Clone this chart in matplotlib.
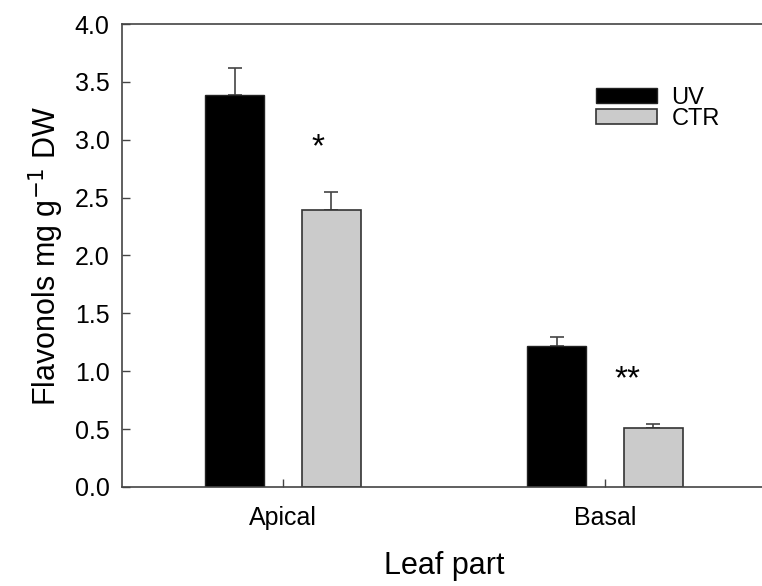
import numpy as np
import matplotlib.pyplot as plt

plt.rcParams['font.family'] = ['Liberation Sans', 'DejaVu Sans']

# data
parts = ['Apical', 'Basal']
uv_mean = [3.39, 1.22]
uv_err = [0.23, 0.08]
ctr_mean = [2.39, 0.51]
ctr_err = [0.16, 0.03]
stars = ['*', '**']
star_y = [2.93, 0.93]

fig = plt.figure(figsize=(7.62, 5.86), dpi=100)
ax = fig.add_axes([0.160, 0.169, 0.845, 0.790])

x = np.arange(len(parts))
w = 0.183
off = 0.15

ax.bar(x - off, uv_mean, w, color='black', edgecolor='#222222', linewidth=1.0,
       label='UV', zorder=2)
ax.bar(x + off, ctr_mean, w, color='#cbcbcb', edgecolor='#333333', linewidth=1.2,
       label='CTR', zorder=2)
ax.errorbar(x - off, uv_mean, yerr=[np.zeros(2), uv_err], fmt='none',
            ecolor='#444444', elinewidth=1.2, capsize=5, capthick=1.2, zorder=1)
ax.errorbar(x + off, ctr_mean, yerr=[np.zeros(2), ctr_err], fmt='none',
            ecolor='#444444', elinewidth=1.2, capsize=5, capthick=1.2, zorder=1)

for i, s in enumerate(stars):
    ax.text(x[i] + 0.11 - 0.04 * i, star_y[i], s, ha='center', va='center',
            fontsize=24)

ax.set_xlim(-0.5, 1.5)
ax.set_ylim(0, 4.0)
ax.set_yticks(np.arange(0, 4.01, 0.5))
ax.set_yticklabels(['%.1f' % v for v in np.arange(0, 4.01, 0.5)])
ax.set_xticks(x)
ax.set_xticklabels(parts)
ax.tick_params(direction='in', length=6, width=1, colors='#444444',
               labelcolor='black', labelsize=18, pad=9)
ax.tick_params(axis='x', pad=14)
ax.spines['right'].set_visible(False)
for sp in ['left', 'top', 'bottom']:
    ax.spines[sp].set_color('#444444')
    ax.spines[sp].set_linewidth(1.2)

ax.set_ylabel('Flavonols mg g$^{-1}$ DW', fontsize=22, labelpad=6)
ax.set_xlabel('Leaf part', fontsize=22, labelpad=15)

ax.legend(loc='upper left', bbox_to_anchor=(0.736, 0.865), frameon=False,
          fontsize=17, handlelength=2.6, handleheight=0.6, labelspacing=-0.02,
          handletextpad=0.6, borderpad=0, borderaxespad=0)

fig.savefig('out.png', dpi=100)
